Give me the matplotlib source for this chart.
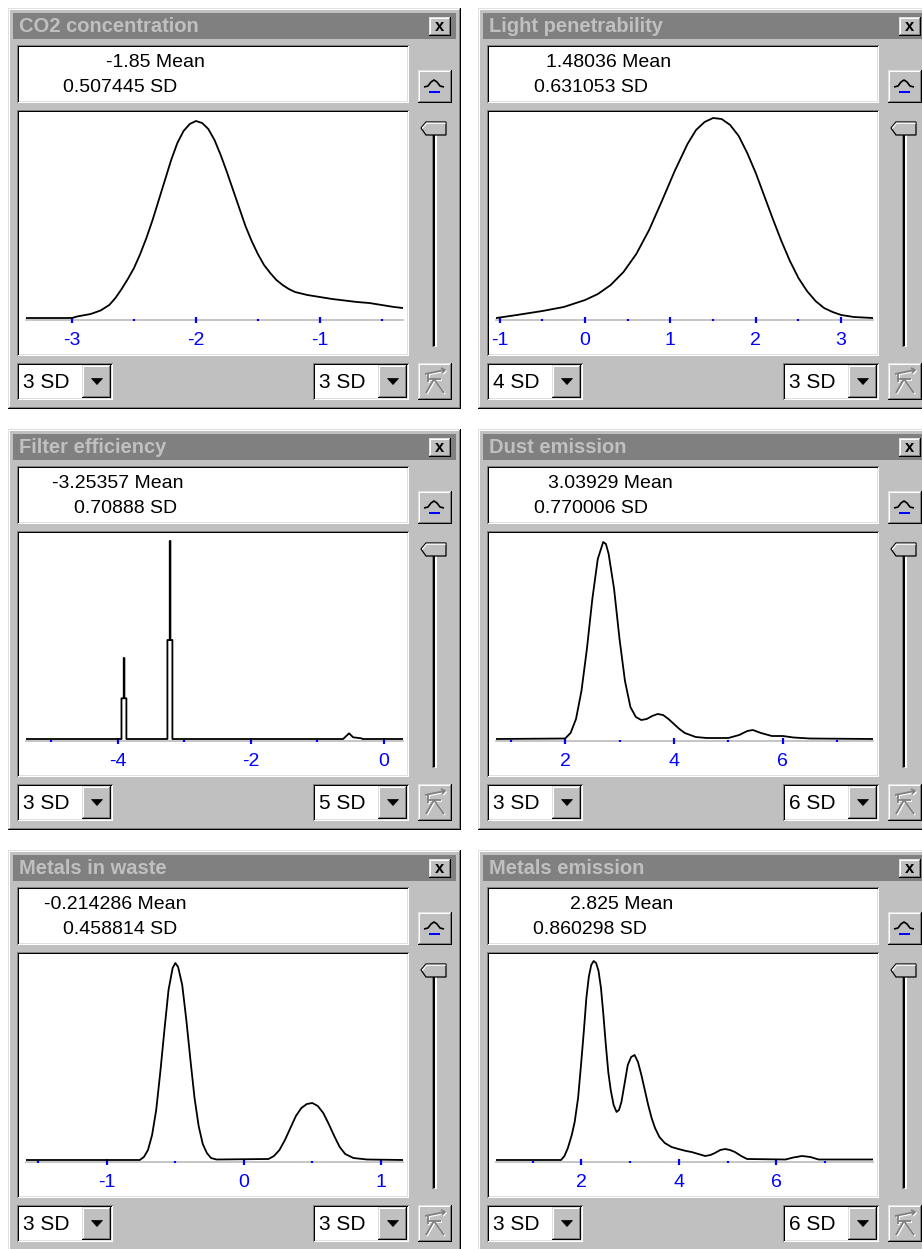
import matplotlib.pyplot as plt
from matplotlib.patches import Rectangle, Polygon
from matplotlib.ticker import MultipleLocator

plt.rcParams['font.family'] = ['Liberation Sans', 'DejaVu Sans']
plt.rcParams['axes.unicode_minus'] = False

W, H = 922, 1249

# ---- data ----
titles = ['CO2 concentration', 'Light penetrability', 'Filter efficiency',
          'Dust emission', 'Metals in waste', 'Metals emission']
means = ['-1.85', '1.48036', '-3.25357', '3.03929', '-0.214286', '2.825']
sds = ['0.507445', '0.631053', '0.70888', '0.770006', '0.458814', '0.860298']
left_sd = [3, 4, 3, 3, 3, 3]
right_sd = [3, 3, 5, 6, 3, 6]
major_step = [1, 1, 2, 2, 1, 2]

co2_x = [-3.37, -3.0, -2.96, -2.85, -2.77, -2.70, -2.65, -2.60, -2.55, -2.50, -2.45,
         -2.40, -2.35, -2.30, -2.25, -2.20, -2.15, -2.10, -2.05, -2.00, -1.95, -1.90,
         -1.85, -1.80, -1.75, -1.70, -1.65, -1.60, -1.55, -1.50, -1.45, -1.40, -1.35,
         -1.30, -1.25, -1.20, -1.10, -1.0, -0.9, -0.8, -0.7, -0.6, -0.5, -0.4, -0.33]
co2_y = [0, 0, 1.5, 4, 7.5, 13, 20, 29, 39, 50, 64,
         80, 98, 118, 138, 158, 175, 187, 194, 197, 195, 189,
         178, 163, 146, 128, 110, 92, 77, 64, 53, 45, 38,
         33, 29, 26, 23, 21, 19, 17.5, 16, 15, 13, 11, 10]

light_x = [-1.04, -0.8, -0.5, -0.25, 0.0, 0.15, 0.3, 0.45, 0.6, 0.75, 0.9, 1.05,
           1.2, 1.3, 1.4, 1.5, 1.6, 1.7, 1.8, 1.9, 2.0, 2.1, 2.2, 2.3, 2.4, 2.5,
           2.6, 2.7, 2.8, 2.9, 3.0, 3.15, 3.37]
light_y = [0, 3, 7, 11, 18, 24, 33, 46, 64, 88, 117, 147,
           174, 188, 196, 200, 199, 193, 182, 165, 145, 122, 99, 77, 57, 40,
           27, 17, 10, 6, 3, 1, 0]

filter_x = [-5.38, -3.944, -3.944, -3.91, -3.91, -3.90, -3.90, -3.87, -3.87,
            -3.253, -3.253, -3.218, -3.218, -3.208, -3.208, -3.178, -3.178,
            -0.61, -0.52, -0.46, -0.335, -0.32, 0.29]
filter_y = [0, 0, 40.7, 40.7, 81, 81, 40.7, 40.7, 0,
            0, 99, 99, 198, 198, 99, 99, 0,
            0, 5.7, 1.7, 0.7, 0, 0]

dust_x = [0.73, 2.0, 2.1, 2.2, 2.3, 2.4, 2.5, 2.6, 2.7, 2.75, 2.8, 2.9, 3.0, 3.1,
          3.2, 3.3, 3.4, 3.5, 3.6, 3.7, 3.8, 3.9, 4.0, 4.1, 4.2, 4.4, 4.6, 5.0,
          5.2, 5.35, 5.45, 5.6, 5.8, 6.0, 6.2, 6.5, 7.66]
dust_y = [0, 0.5, 6, 20, 48, 90, 140, 180, 197, 195, 185, 150, 100, 58,
          32, 22, 19, 20, 23, 25, 24, 20, 15, 10, 6, 2, 1, 1,
          4, 8, 9, 6, 3, 3, 1.5, 0.5, 0]

waste_x = [-1.59, -0.76, -0.73, -0.70, -0.67, -0.64, -0.61, -0.58, -0.55, -0.52,
           -0.50, -0.48, -0.45, -0.42, -0.39, -0.36, -0.33, -0.30, -0.27, -0.24,
           -0.20, 0.18, 0.22, 0.26, 0.30, 0.34, 0.38, 0.42, 0.46, 0.50, 0.54,
           0.58, 0.62, 0.66, 0.70, 0.74, 0.80, 0.9, 1.16]
waste_y = [0, 0, 3, 10, 25, 50, 88, 130, 170, 192,
           197, 193, 175, 140, 100, 62, 34, 16, 7, 2,
           0.5, 1, 4, 10, 20, 32, 44, 52, 56, 57, 54,
           47, 36, 24, 13, 6, 2, 0.5, 0]

metals_x = [0.25, 1.58, 1.65, 1.72, 1.80, 1.86, 1.93, 1.99, 2.05, 2.10, 2.15, 2.20,
            2.25, 2.30, 2.35, 2.40, 2.45, 2.50, 2.55, 2.60, 2.66, 2.72, 2.77, 2.82,
            2.88, 2.95, 3.02, 3.09, 3.16, 3.23, 3.30, 3.37, 3.44, 3.51, 3.60, 3.71,
            3.85, 3.99, 4.15, 4.26, 4.40, 4.54, 4.65, 4.74, 4.85, 4.95, 5.05, 5.15,
            5.28, 5.40, 6.19, 6.35, 6.53, 6.70, 6.87, 7.98]
metals_y = [0, 0, 4, 12, 25, 38, 62, 95, 130, 162, 183, 195,
            199, 197, 189, 172, 145, 115, 88, 70, 55, 48, 50, 58,
            75, 95, 103, 105, 98, 85, 70, 55, 42, 32, 23, 17,
            13, 11, 9, 8, 6, 4, 5, 7, 10, 11, 10, 8,
            4, 1, 0.5, 2.5, 4, 3, 0.5, 0.5]

curves = [(co2_x, co2_y), (light_x, light_y), (filter_x, filter_y),
          (dust_x, dust_y), (waste_x, waste_y), (metals_x, metals_y)]

# layout (pixels)
cols = [8, 478]
rows = [8, 429, 850]
mean_text_x = [98, 68, 44, 70, 36, 92]
sd_text_x = [55, 56, 66, 56, 55, 55]

fig = plt.figure(figsize=(W / 100, H / 100), dpi=100)
bg = fig.add_axes([0, 0, 1, 1])
bg.set_xlim(0, W)
bg.set_ylim(H, 0)
bg.axis('off')


def box(x, y, w, h, c):
    bg.add_patch(Rectangle((x, y), w, h, facecolor=c, edgecolor='none', lw=0))


def raised(x0, y0, x1, y1, face='#c0c0c0'):
    w, h = x1 - x0, y1 - y0
    box(x0, y0, w, h, face)
    box(x0, y0, w, 1, '#dfdfdf')
    box(x0, y0, 1, h, '#dfdfdf')
    box(x0 + 1, y0 + 1, w - 2, 1, 'white')
    box(x0 + 1, y0 + 1, 1, h - 2, 'white')
    box(x0, y1 - 1, w, 1, 'black')
    box(x1 - 1, y0, 1, h, 'black')
    box(x0 + 1, y1 - 2, w - 2, 1, '#808080')
    box(x1 - 2, y0 + 1, 1, h - 2, '#808080')


def sunken(x0, y0, x1, y1, face='white'):
    w, h = x1 - x0, y1 - y0
    box(x0, y0, w, h, face)
    box(x0, y1 - 1, w, 1, 'white')
    box(x1 - 1, y0, 1, h, 'white')
    box(x0 + 1, y1 - 2, w - 2, 1, '#dfdfdf')
    box(x1 - 2, y0 + 1, 1, h - 2, '#dfdfdf')
    box(x0, y0, w, 1, '#808080')
    box(x0, y0, 1, h, '#808080')
    box(x0 + 1, y0 + 1, w - 2, 1, 'black')
    box(x0 + 1, y0 + 1, 1, h - 2, 'black')


def dropdown(ox, oy, x0, label):
    sunken(ox + x0, oy + 355, ox + x0 + 96, oy + 392)
    raised(ox + x0 + 65, oy + 357, ox + x0 + 94, oy + 390)
    cx = ox + x0 + 80
    bg.add_patch(Polygon([(cx - 5.5, oy + 370.5), (cx + 5.5, oy + 370.5), (cx, oy + 376.5)],
                         closed=True, facecolor='black', edgecolor='black', lw=0.5))
    bg.text(ox + x0 + 6, oy + 374, label, fontsize=15, va='center', ha='left', color='black')


for i in range(6):
    ox = cols[i % 2]
    oy = rows[i // 2]

    # window frame and title bar
    raised(ox, oy, ox + 453, oy + 401)
    box(ox + 5, oy + 5, 443, 26, '#808080')
    bg.text(ox + 11, oy + 18.5, titles[i], color='#c0c0c0', fontweight='bold',
            fontsize=14.5, va='center', ha='left')
    raised(ox + 421, oy + 9, ox + 443, oy + 28)
    bg.text(ox + 432, oy + 18, 'x', fontweight='bold', fontsize=12,
            va='center', ha='center', color='black')

    # mean / sd box
    sunken(ox + 9, oy + 37, ox + 401, oy + 95)
    bg.text(ox + mean_text_x[i], oy + 54, means[i] + ' Mean', fontsize=14,
            va='center', ha='left')
    bg.text(ox + sd_text_x[i], oy + 79, sds[i] + ' SD', fontsize=14,
            va='center', ha='left')

    # curve button
    raised(ox + 410, oy + 62, ox + 444, oy + 95)
    bg.plot([ox + 416, ox + 420, ox + 423, ox + 426, ox + 429, ox + 432, ox + 436],
            [oy + 79, oy + 78, oy + 74, oy + 72, oy + 74, oy + 78, oy + 79],
            color='black', lw=1.2, solid_capstyle='butt')
    box(ox + 421, oy + 83, 11, 2, '#0000ff')

    # slider
    box(ox + 424, oy + 118, 2, 221, '#808080')
    box(ox + 425, oy + 119, 2, 219, 'black')
    box(ox + 427, oy + 118, 2, 221, 'white')
    bg.add_patch(Polygon([(ox + 413, oy + 120), (ox + 418, oy + 114), (ox + 438, oy + 114),
                          (ox + 438, oy + 127), (ox + 418, oy + 127)], closed=True,
                         facecolor='#c0c0c0', edgecolor='black', lw=0.9))
    bg.plot([ox + 414.5, ox + 418.5, ox + 437], [oy + 120, oy + 115.2, oy + 115.2],
            color='white', lw=0.9)

    # plot box
    sunken(ox + 9, oy + 102, ox + 401, oy + 348)

    # dropdowns
    dropdown(ox, oy, 9, '%d SD' % left_sd[i])
    dropdown(ox, oy, 305, '%d SD' % right_sd[i])

    # disabled button
    raised(ox + 410, oy + 355, ox + 444, oy + 392)
    for d, c in [(1, 'white'), (0, '#808080')]:
        kw = dict(color=c, lw=1.3, solid_capstyle='butt')
        bg.plot([ox + 417 + d, ox + 437 + d], [oy + 366 + d, oy + 362 + d], **kw)
        bg.plot([ox + 433 + d, ox + 437 + d, ox + 434 + d], [oy + 360 + d, oy + 362 + d, oy + 365 + d], **kw)
        bg.plot([ox + 420 + d, ox + 433 + d], [oy + 371 + d, oy + 371 + d], **kw)
        bg.plot([ox + 420 + d, ox + 420 + d], [oy + 366 + d, oy + 374 + d], **kw)
        bg.plot([ox + 418 + d, ox + 426 + d, ox + 436 + d], [oy + 385 + d, oy + 371 + d, oy + 385 + d], **kw)

    # density curve
    m = float(means[i])
    s = float(sds[i])
    lo = m - left_sd[i] * s
    hi = m + right_sd[i] * s
    ax = fig.add_axes([(ox + 18) / W, 1 - (oy + 312) / H, 377 / W, 208 / H])
    cx, cy = curves[i]
    ax.axhline(-2, color='#c0c0c0', lw=1.3, zorder=0, clip_on=False)
    ax.plot(cx, cy, color='black', lw=1.3, zorder=3)
    ax.set_xlim(lo, hi)
    ax.set_ylim(-2, 206)
    ax.patch.set_visible(False)
    for sp in ax.spines.values():
        sp.set_visible(False)
    ax.set_yticks([])
    ax.set_axisbelow(False)
    ax.xaxis.set_major_locator(MultipleLocator(major_step[i]))
    ax.xaxis.set_minor_locator(MultipleLocator(major_step[i] / 2))
    ax.tick_params(axis='x', which='major', direction='inout', length=5, width=1.6,
                   colors='#0000ff', labelsize=14, pad=6)
    ax.tick_params(axis='x', which='minor', direction='inout', length=2, width=1.6,
                   colors='#0000ff')

fig.savefig('out.png', dpi=100, facecolor='white')
